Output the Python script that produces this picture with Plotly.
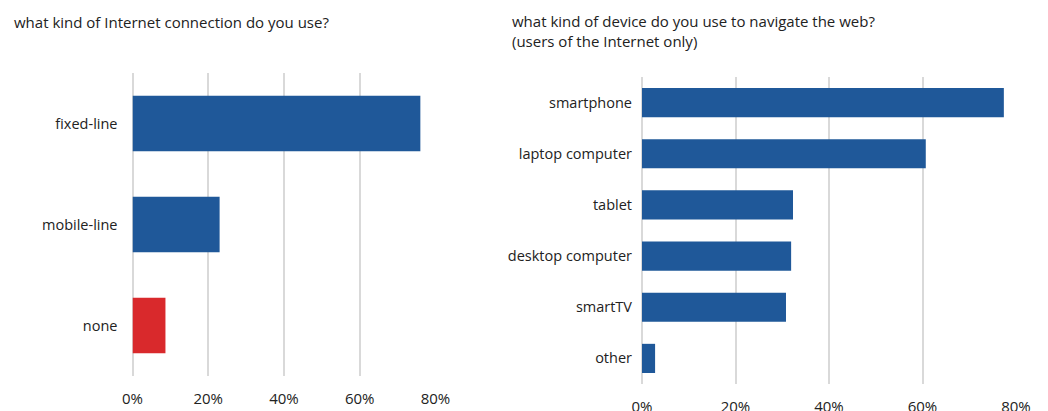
import plotly.graph_objects as go

conn_categories = ["fixed-line", "mobile-line", "none"]
conn_values = [76.0, 23.0, 8.7]
conn_colors = ["#1F5899", "#1F5899", "#D9292C"]

device_categories = ["smartphone", "laptop computer", "tablet", "desktop computer", "smartTV", "other"]
device_values = [77.4, 60.7, 32.3, 31.9, 30.8, 2.8]

tick_vals = [0, 20, 40, 60, 80]
tick_text = ["0%", "20%", "40%", "60%", "80%"]

title_left = "what kind of Internet connection do you use?"
title_right = "what kind of device do you use to navigate the web?<br>(users of the Internet only)"

W, H = 1048, 411
FONT = "Open Sans"
TXT = "#222222"
GRID = "#d9d9d9"

fig = go.Figure()
fig.add_trace(go.Bar(
    x=conn_values, y=conn_categories, orientation="h",
    marker=dict(color=conn_colors, line=dict(width=0)),
    width=0.55, xaxis="x", yaxis="y", showlegend=False,
))
fig.add_trace(go.Bar(
    x=device_values, y=device_categories, orientation="h",
    marker=dict(color="#1F5899", line=dict(width=0)),
    width=0.57, xaxis="x2", yaxis="y2", showlegend=False,
))

def xax(domain, anchor):
    return dict(domain=domain, anchor=anchor, range=[0, 80], tickvals=tick_vals, ticktext=tick_text,
                showgrid=True, gridcolor=GRID, gridwidth=1.5, zeroline=True, zerolinecolor=GRID,
                zerolinewidth=1.5, showline=False, ticks="", ticklabelstandoff=12, automargin=False,
                tickfont=dict(family=FONT, size=15, color=TXT), fixedrange=True)

def yax(domain, anchor, cats, standoff):
    return dict(domain=domain, anchor=anchor, categoryorder="array", categoryarray=cats,
                autorange="reversed", showgrid=False, zeroline=False, showline=False, ticks="",
                automargin=False, ticklabelstandoff=standoff,
                tickfont=dict(family=FONT, size=14.5, color=TXT))

fig.update_layout(
    width=W, height=H, margin=dict(l=0, r=0, t=0, b=0, autoexpand=False),
    paper_bgcolor="white", plot_bgcolor="white",
    xaxis=xax([132.5 / W, 435.5 / W], "y"),
    yaxis=yax([(H - 376) / H, (H - 73) / H], "x", conn_categories, 14),
    xaxis2=xax([642 / W, 1016 / W], "y2"),
    yaxis2=yax([(H - 384) / H, (H - 77) / H], "x2", device_categories, 9),
    bargap=0.45,
    annotations=[
        dict(text=title_left, x=12 / W, y=1 - 22 / H, xref="paper", yref="paper",
             xanchor="left", yanchor="middle", showarrow=False, align="left",
             font=dict(family=FONT, size=15, color=TXT)),
        dict(text=title_right, x=510 / W, y=1 - 31 / H, xref="paper", yref="paper",
             xanchor="left", yanchor="middle", showarrow=False, align="left",
             font=dict(family=FONT, size=15, color=TXT)),
    ],
)

fig.write_html("out.html", config={"displayModeBar": False},
               post_script="document.body.style.margin='0';document.body.style.overflow='hidden';")
